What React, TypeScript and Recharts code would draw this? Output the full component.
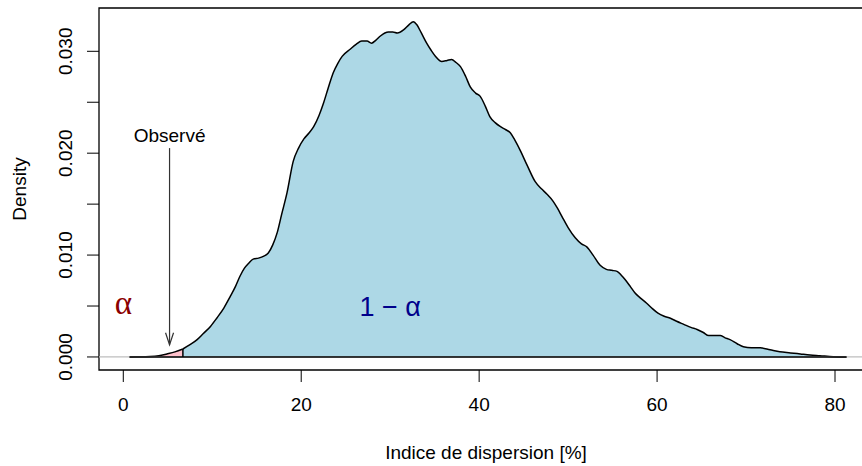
import React from 'react';
import { ComposedChart, Area, XAxis, YAxis, ReferenceLine, ReferenceArea, ReferenceDot, Label } from 'recharts';

// Estimated density of the dispersion index (x in %, y = density)
const dispersion = [
  0.7, 1.5, 3.0, 4.0, 4.9, 5.8, 6.7, 7.5, 8.3, 9.0, 9.8, 10.5, 11.3, 12.0, 12.6, 13.1, 13.6, 14.1, 14.6,
  15.2, 15.8, 16.3, 16.8, 17.3, 17.8, 18.4, 19.1, 19.7, 20.3, 20.9, 21.4, 22.0, 22.5, 23.0, 23.6, 24.1,
  24.6, 25.5, 26.2, 26.8, 27.4, 27.9, 28.4, 28.9, 29.4, 29.8, 30.3, 30.8, 31.5, 32.1, 32.6, 33.0, 33.5,
  34.1, 34.6, 35.1, 35.8, 36.4, 36.9, 37.4, 37.9, 38.5, 39.0, 39.6, 40.1, 40.7, 41.2, 41.8, 42.4, 43.0,
  43.5, 44.0, 44.6, 45.4, 46.3, 47.0, 47.6, 48.3, 48.8, 49.3, 50.0, 50.8, 51.5, 52.1, 52.8, 53.6, 54.3,
  54.9, 55.5, 56.0, 56.4, 57.0, 57.5, 58.1, 58.8, 59.4, 60.1, 60.8, 61.5, 62.2, 63.0, 63.8, 64.5, 65.2,
  65.8, 66.5, 67.1, 67.6, 68.2, 69.0, 69.7, 70.6, 71.6, 72.7, 73.8, 75.0, 76.1, 77.2, 78.3, 79.8, 81.3,
];
const density = [
  0, 0.00001, 0.00004, 0.00012, 0.0003, 0.0005, 0.00078, 0.0012, 0.0017, 0.0023, 0.003, 0.0038, 0.0048,
  0.0059, 0.0069, 0.0079, 0.0087, 0.0092, 0.0096, 0.0097, 0.0099, 0.0102, 0.011, 0.0122, 0.014, 0.0161,
  0.0192, 0.0205, 0.0214, 0.022, 0.0226, 0.0237, 0.0249, 0.0263, 0.0279, 0.0288, 0.0295, 0.0302, 0.0307,
  0.031, 0.031, 0.0308, 0.0311, 0.0315, 0.0318, 0.0319, 0.0319, 0.0318, 0.0321, 0.0326, 0.0329, 0.0326,
  0.0318, 0.0308, 0.0301, 0.0295, 0.029, 0.0291, 0.0292, 0.0289, 0.0285, 0.0275, 0.0265, 0.0259, 0.0256,
  0.0246, 0.0236, 0.023, 0.0226, 0.0223, 0.022, 0.0213, 0.0203, 0.0188, 0.0172, 0.0165, 0.016, 0.0153,
  0.0146, 0.0138, 0.0127, 0.0117, 0.0111, 0.0108, 0.01, 0.009, 0.0086, 0.0085, 0.0084, 0.008, 0.0076,
  0.0069, 0.0063, 0.0058, 0.0053, 0.0048, 0.0043, 0.004, 0.0038, 0.0035, 0.0032, 0.0029, 0.0027, 0.0024,
  0.0021, 0.0021, 0.0021, 0.0019, 0.0017, 0.0013, 0.001, 0.0009, 0.0009, 0.0007, 0.0005, 0.0004, 0.0003,
  0.0002, 0.00013, 0.00003, 0,
];

const cutoff = 6.7; // quantile alpha
const observed = 5.2;
const xTicks = [0, 20, 40, 60, 80];
const yTicks = [0, 0.005, 0.01, 0.015, 0.02, 0.025, 0.03];
const yLabelled = [0, 0.01, 0.02, 0.03];

const xDomain = [-2.73, 84.27];
const yDomain = [-0.00128, 0.03425];

const data = dispersion.map((x, i) => ({
  x,
  alpha: x <= cutoff ? density[i] : null,
  rest: x >= cutoff ? density[i] : null,
}));
const cutoffDensity = density[dispersion.indexOf(cutoff)];

const FONT = '"Liberation Sans", Arial, Helvetica, sans-serif';
const SERIF = '"Liberation Serif", "Times New Roman", serif';

const YTick = (props: any) => {
  const { x, y, payload } = props;
  const v = payload.value as number;
  if (!yLabelled.some((t) => Math.abs(t - v) < 1e-9)) return null;
  return (
    <text x={0} y={0} transform={`translate(${x},${y}) rotate(-90)`} textAnchor="middle" fontSize={19} fill="#000" fontFamily={FONT}>
      {v.toFixed(3)}
    </text>
  );
};

const Arrow = (props: any) => {
  const { x1, y1, x2, y2 } = props;
  return (
    <g stroke="#333" strokeWidth={1.2} fill="none">
      <line x1={x1} y1={y1} x2={x2} y2={y2} />
      <path d={`M${x2 - 4},${y2 - 12} L${x2},${y2} L${x2 + 4},${y2 - 12}`} />
    </g>
  );
};

export default function App() {
  return (
    <div style={{ position: 'absolute', left: 0, top: 0, width: 862, height: 466, overflow: 'hidden', background: '#fff', fontFamily: FONT }}>
      <ComposedChart width={873} height={466} data={data} margin={{ top: 8, right: 0, bottom: 0, left: 0 }}>
        <XAxis
          dataKey="x"
          type="number"
          domain={xDomain}
          ticks={xTicks}
          allowDataOverflow
          axisLine={false}
          tickLine={{ stroke: '#000' }}
          tickSize={12}
          tickMargin={16}
          tick={{ fill: '#000', fontSize: 19, fontFamily: FONT }}
          height={96}
        >
          <Label
            content={(p: any) => {
              const vb = p.viewBox;
              return (
                <text x={vb.x + vb.width / 2} y={vb.y + 89} textAnchor="middle" fontSize={19} fill="#000" fontFamily={FONT}>
                  Indice de dispersion [%]
                </text>
              );
            }}
          />
        </XAxis>
        <YAxis
          type="number"
          domain={yDomain}
          ticks={yTicks}
          allowDataOverflow
          axisLine={false}
          tickLine={{ stroke: '#000' }}
          tickSize={12}
          tickMargin={15}
          tick={<YTick />}
          width={99}
        >
          <Label
            content={(p: any) => {
              const vb = p.viewBox;
              const cy = vb.y + vb.height / 2;
              return (
                <text x={0} y={0} transform={`translate(26,${cy}) rotate(-90)`} textAnchor="middle" fontSize={19} fill="#000" fontFamily={FONT}>
                  Density
                </text>
              );
            }}
          />
        </YAxis>

        <ReferenceLine y={0} stroke="#BEBEBE" strokeWidth={1.2} />
        <Area
          dataKey="alpha"
          type="monotone"
          baseValue={0}
          fill="#FFC0CB"
          fillOpacity={1}
          stroke="#000"
          strokeWidth={1.5}
          dot={false}
          activeDot={false}
          isAnimationActive={false}
        />
        <Area
          dataKey="rest"
          type="monotone"
          baseValue={0}
          fill="#ADD8E6"
          fillOpacity={1}
          stroke="#000"
          strokeWidth={1.5}
          dot={false}
          activeDot={false}
          isAnimationActive={false}
        />
        <ReferenceLine
          segment={[{ x: dispersion[0], y: 0 }, { x: dispersion[dispersion.length - 1], y: 0 }]}
          stroke="#000"
          strokeWidth={1.5}
        />
        <ReferenceLine
          segment={[{ x: cutoff, y: 0 }, { x: cutoff, y: cutoffDensity }]}
          stroke="#000"
          strokeWidth={1.5}
        />
        <ReferenceLine
          segment={[{ x: observed, y: 0.0205 }, { x: observed, y: 0.0012 }]}
          shape={<Arrow />}
        />
        <ReferenceDot
          x={observed}
          y={0.0218}
          r={0}
          stroke="none"
          label={{ value: 'Observé', position: 'center', fontSize: 19, fill: '#000', fontFamily: FONT }}
        />
        <ReferenceDot
          x={0}
          y={0.0054}
          r={0}
          stroke="none"
          label={{ value: 'α', position: 'center', fontSize: 33, fill: '#8B0000', fontFamily: SERIF }}
        />
        <ReferenceDot
          x={30}
          y={0.005}
          r={0}
          stroke="none"
          label={{ value: '1 − α', position: 'center', fontSize: 27, fill: '#00008B', fontFamily: FONT }}
        />
        <ReferenceArea x1={xDomain[0]} x2={xDomain[1]} y1={yDomain[0]} y2={yDomain[1]} fill="none" stroke="#000" strokeWidth={1.3} />
      </ComposedChart>
    </div>
  );
}
